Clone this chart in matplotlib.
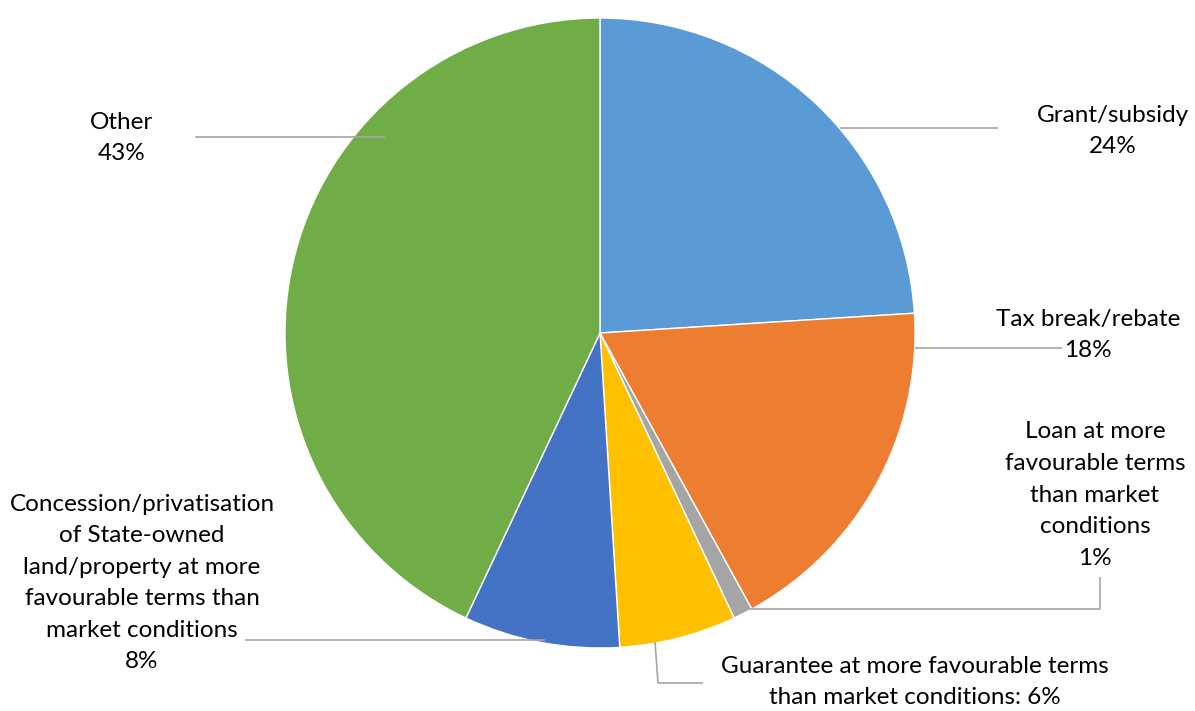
import matplotlib
matplotlib.use("Agg")
import matplotlib.pyplot as plt

categories = ["Grant/subsidy", "Tax break/rebate",
              "Loan at more favourable terms than market conditions",
              "Guarantee at more favourable terms than market conditions",
              "Concession/privatisation of State-owned land/property at more favourable terms than market conditions",
              "Other"]
values = [24, 18, 1, 6, 8, 43]
colors = ["#5B9BD5", "#ED7D31", "#A5A5A5", "#FFC000", "#4472C4", "#70AD47"]
label_texts = ["Grant/subsidy\n24%", "Tax break/rebate\n18%",
               "Loan at more\nfavourable terms\nthan market\nconditions\n1%",
               "Guarantee at more favourable terms\nthan market conditions: 6%",
               "Concession/privatisation\nof State-owned\nland/property at more\nfavourable terms than\nmarket conditions\n8%",
               "Other\n43%"]

W, H = 1195, 711
plt.rcParams['font.family'] = ['Lato', 'DejaVu Sans']
fig = plt.figure(figsize=(W / 100, H / 100), dpi=100)
ax = fig.add_axes([0, 0, 1, 1])

def P(x, y):
    return (x, H - y)

ax.pie(values, colors=colors, startangle=90, counterclock=False,
       center=P(600, 333), radius=315, frame=True,
       wedgeprops=dict(edgecolor='white', linewidth=1))
ax.set_xlim(0, W)
ax.set_ylim(0, H)
ax.set_aspect('equal')
ax.axis('off')

# layout of labels (pixel positions) and leader paths
text_pos = [(1113, 131), (1088, 335), (1095, 495), (915, 682), (142, 583), (122, 138)]
leaders = [
    [(840, 128), (998, 128)],
    [(915, 348), (1062, 348)],
    [(740, 609), (1100, 609), (1100, 577)],
    [(655, 642), (658, 683), (703, 683)],
    [(245, 640), (545, 640)],
    [(195, 137), (385, 137)],
]
for txt, pos, path in zip(label_texts, text_pos, leaders):
    xs, ys = zip(*[P(*p) for p in path])
    ax.plot(xs, ys, color='#A6A6A6', lw=1.2, solid_capstyle='butt', zorder=3)
    ax.text(*P(*pos), txt, ha='center', va='center', fontsize=17.5,
            color='black', linespacing=1.62, zorder=4)

fig.savefig("out.png", dpi=100)
